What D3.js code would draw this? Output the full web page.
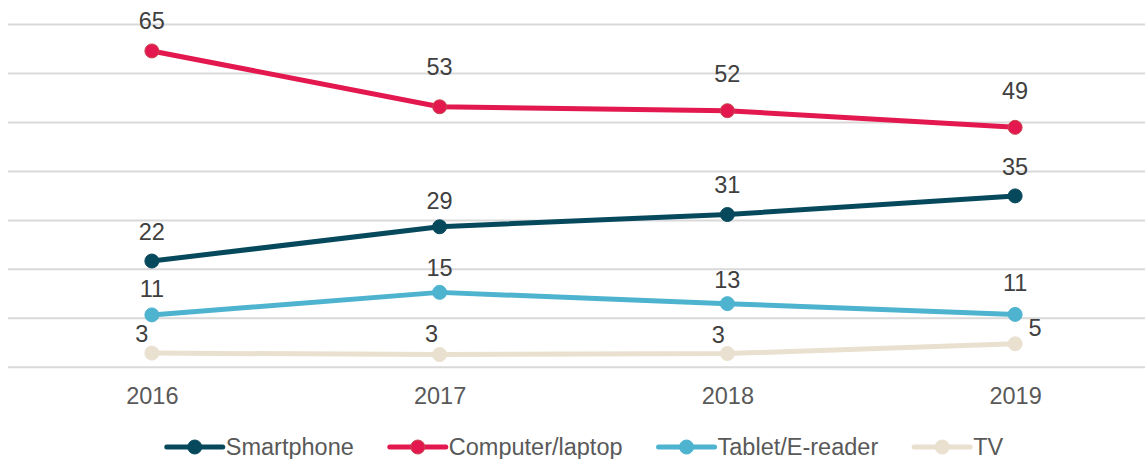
<!DOCTYPE html>
<html><head><meta charset="utf-8">
<script src="https://cdn.jsdelivr.net/npm/d3@7"></script>
<style>
html,body{margin:0;padding:0;background:#fff;}
svg{display:block;font-family:"Liberation Sans",Arial,sans-serif;}
</style></head>
<body>
<svg id="chart" width="1145" height="459"></svg>
<script>
const years = ["2016", "2017", "2018", "2019"];
const seriesNames = ["Smartphone", "Computer/laptop", "Tablet/E-reader", "TV"];
const smartphone = [21.7, 28.7, 31.2, 35];
const computer = [64.6, 53.2, 52.4, 49];
const tablet = [10.7, 15.3, 13, 10.8];
const tv = [2.9, 2.6, 2.8, 4.8];
const smartphoneLabels = ["22", "29", "31", "35"];
const computerLabels = ["65", "53", "52", "49"];
const tabletLabels = ["11", "15", "13", "11"];
const tvLabels = ["3", "3", "3", "5"];
const yTicks = [0, 10, 20, 30, 40, 50, 60, 70];

const colors = ["#07495c", "#e3184f", "#4db3cf", "#e9e0cf"];
const markerStroke = ["#07495c", "#c9464f", "#4db3cf", "#e9e0cf"];
// label offsets (layout only)
const labelOffsets = [
  [[0,-29],[0,-26],[0,-30],[0,-29]],
  [[0,-30],[0,-40],[0,-37],[0,-36]],
  [[0,-26],[0,-24],[0,-24],[0,-31]],
  [[-10,-19],[-8,-21],[-9,-19],[20,-16]]
];

const data = [smartphone, computer, tablet, tv];
const labels = [smartphoneLabels, computerLabels, tabletLabels, tvLabels];
const svg = d3.select("#chart");

const x = d3.scalePoint().domain(years).range([8, 1159]).padding(0.5);
const y = d3.scaleLinear().domain([0, 70]).range([367.3, 24.5]);

// gridlines
svg.append("g").selectAll("line").data(yTicks).join("line")
  .attr("x1", 8).attr("x2", 1145)
  .attr("y1", d => y(d)).attr("y2", d => y(d))
  .attr("stroke", "#d9d9d9").attr("stroke-width", 2);

// x axis labels
const xAxis = d3.axisBottom(x).tickSize(0).tickPadding(0);
const gx = svg.append("g").attr("transform", "translate(0,396)").call(xAxis);
gx.select(".domain").remove();
gx.selectAll("text").attr("font-size", 23.5).attr("fill", "#595959")
  .attr("font-family", "Liberation Sans, Arial, sans-serif")
  .attr("dy", "0.35em").attr("y", 0);

const line = d3.line().x((d, i) => x(years[i])).y(d => y(d));

data.forEach((vals, s) => {
  const g = svg.append("g");
  g.append("path").datum(vals).attr("d", line)
    .attr("fill", "none").attr("stroke", colors[s]).attr("stroke-width", 5)
    .attr("stroke-linejoin", "round");
  g.selectAll("circle").data(vals).join("circle")
    .attr("cx", (d, i) => x(years[i])).attr("cy", d => y(d)).attr("r", 7)
    .attr("fill", colors[s]).attr("stroke", markerStroke[s]).attr("stroke-width", 1);
});

// data labels
data.forEach((vals, s) => {
  svg.append("g").selectAll("text").data(vals).join("text")
    .attr("x", (d, i) => x(years[i]) + labelOffsets[s][i][0])
    .attr("y", (d, i) => y(d) + labelOffsets[s][i][1])
    .attr("text-anchor", "middle").attr("dominant-baseline", "central")
    .attr("font-size", 23.5).attr("fill", "#404040")
    .text((d, i) => labels[s][i]);
});

// legend
const legend = svg.append("g");
const legendY = 447;
let items = [];
seriesNames.forEach((name, s) => {
  const it = legend.append("g");
  it.append("line").attr("x1", 0).attr("x2", 56).attr("y1", 0).attr("y2", 0)
    .attr("stroke", colors[s]).attr("stroke-width", 5).attr("stroke-linecap", "round");
  it.append("circle").attr("cx", 28).attr("cy", 0).attr("r", 7)
    .attr("fill", colors[s]).attr("stroke", markerStroke[s]);
  const t = it.append("text").attr("x", 59).attr("y", 0).attr("dominant-baseline", "central")
    .attr("font-size", 23.5).attr("fill", "#595959").text(name);
  const w = 59 + t.node().getComputedTextLength();
  items.push({it, w});
});
let total = items.reduce((a, b) => a + b.w, 0) + 36 * (items.length - 1);
let start = 585 - total / 2;
items.forEach(o => {
  o.it.attr("transform", `translate(${start},${legendY})`);
  start += o.w + 36;
});
</script>
</body></html>
